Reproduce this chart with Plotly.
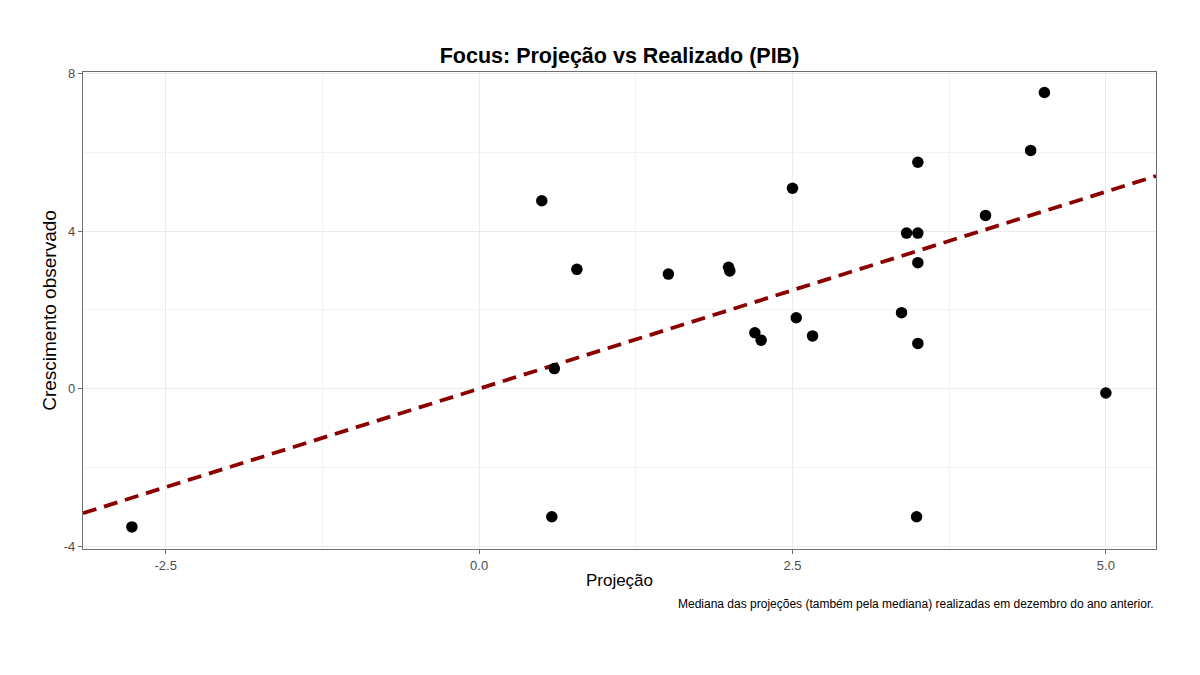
import plotly.graph_objects as go

projecao = [-2.77, 0.50, 0.78, 0.60, 0.58, 1.51, 1.99, 2.00, 2.20, 2.25, 2.50, 2.53,
            2.66, 3.37, 3.41, 3.50, 3.50, 3.50, 3.50, 3.49, 4.04, 4.40, 4.51, 5.00]
realizado = [-3.51, 4.77, 3.03, 0.51, -3.25, 2.91, 3.08, 2.99, 1.42, 1.23, 5.09, 1.80,
             1.34, 1.93, 3.95, 5.75, 3.95, 3.20, 1.15, -3.25, 4.40, 6.05, 7.52, -0.11]

x_range = [-3.16, 5.40]
y_range = [-4.07, 8.04]
x_ticks = [-2.5, 0.0, 2.5, 5.0]
x_tick_labels = ["-2.5", "0.0", "2.5", "5.0"]
y_ticks = [-4, 0, 4, 8]
y_tick_labels = ["-4", "0", "4", "8"]

title = "Focus: Projeção vs Realizado (PIB)"
x_title = "Projeção"
y_title = "Crescimento observado"
caption = "Mediana das projeções (também pela mediana) realizadas em dezembro do ano anterior."

W, H = 1184, 659

fig = go.Figure()
# identity line (y = x)
fig.add_trace(go.Scatter(x=x_range, y=x_range, mode="lines",
                         line=dict(color="#8B0000", width=3.8, dash="14px,8px"),
                         hoverinfo="skip", showlegend=False))
fig.add_trace(go.Scatter(x=projecao, y=realizado, mode="markers",
                         marker=dict(color="black", size=11.5), showlegend=False))

axis_common = dict(showline=True, linecolor="#6e6e6e", linewidth=1.3, mirror=True,
                   ticks="outside", ticklen=4, tickcolor="#6e6e6e",
                   gridcolor="#ebebeb", gridwidth=1, zeroline=False, automargin=False,
                   tickfont=dict(family="Liberation Sans", size=13, color="#4d4d4d"))

fig.update_layout(
    width=W, height=H,
    paper_bgcolor="white", plot_bgcolor="white",
    margin=dict(l=75, r=36, t=64, b=118),
    font=dict(family="Liberation Sans", color="black"),
    title=dict(text="<b>" + title + "</b>", x=0.5, xanchor="center", xref="paper",
               y=1 - 47 / H, yanchor="middle", yref="container",
               font=dict(size=21.5, color="black")),
    xaxis=dict(range=x_range, tickvals=x_ticks, ticktext=x_tick_labels,
               minor=dict(tickvals=[-1.25, 1.25, 3.75], showgrid=True, gridcolor="#f3f3f3",
                          gridwidth=0.8, ticks=""),
               title=dict(text=x_title, font=dict(size=17, color="black"), standoff=2),
               **axis_common),
    yaxis=dict(range=y_range, tickvals=y_ticks, ticktext=y_tick_labels,
               minor=dict(tickvals=[-2, 2, 6], showgrid=True, gridcolor="#f3f3f3",
                          gridwidth=0.8, ticks=""),
               title=dict(text=y_title, font=dict(size=19, color="black"), standoff=2),
               **axis_common),
    annotations=[dict(text=caption, xref="paper", yref="paper", x=1, y=0,
                      xanchor="right", yanchor="middle", yshift=-55, showarrow=False,
                      font=dict(family="Liberation Sans", size=12, color="black"))],
)

fig.write_html("out.html")
